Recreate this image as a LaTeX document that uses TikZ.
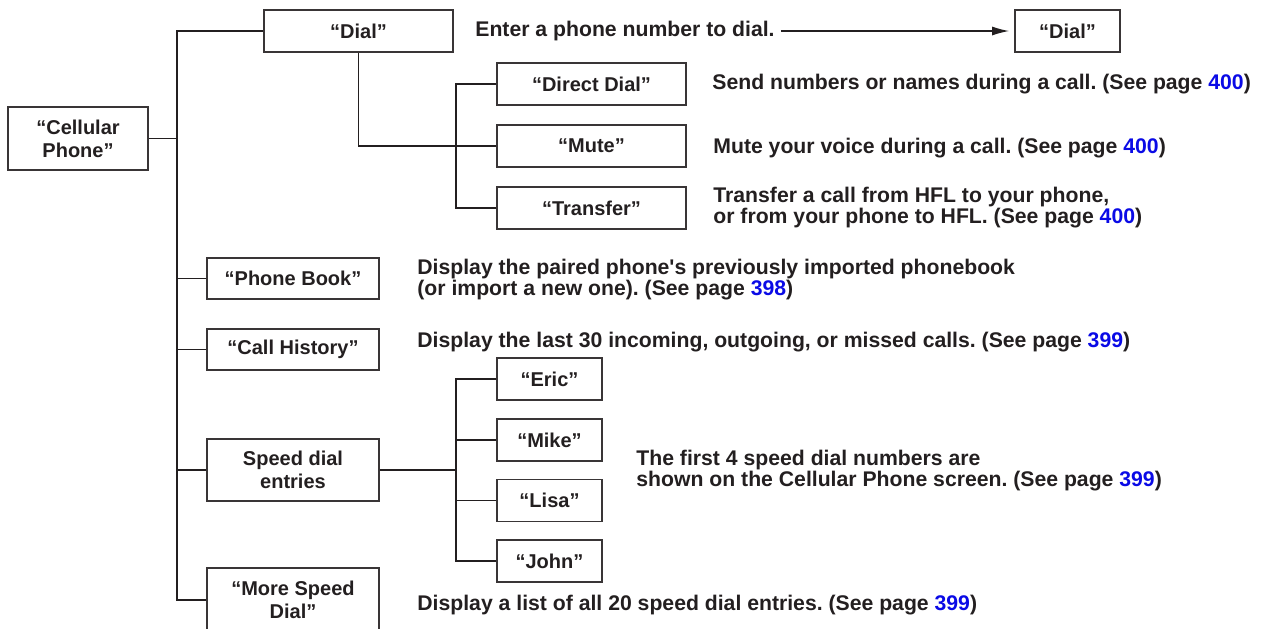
\documentclass[tikz,border=0pt]{standalone}
\usepackage{fontspec}
\setmainfont{Liberation Sans}
\usetikzlibrary{arrows.meta,positioning}
\definecolor{ink}{HTML}{231F20}
\definecolor{pageblue}{HTML}{0A0AE6}
\newcommand{\pg}[1]{\textcolor{pageblue}{#1}}
\frenchspacing
\tikzset{>=Latex,line width=.75pt,
  every node/.style={font=\bfseries\fontsize{10}{11.5}\selectfont,text=ink},
  menubox/.style={draw=ink!90,line width=.8pt,inner sep=0pt,align=center},
  widebox/.style={menubox,minimum width=94.5pt,minimum height=21pt},
  midbox/.style={menubox,minimum width=86pt,minimum height=20.5pt},
  namebox/.style={menubox,minimum width=52.5pt,minimum height=21pt},
  desc/.style={anchor=west,align=left,inner sep=0pt,
    font=\bfseries\fontsize{10.6}{10.5}\selectfont},
  wire/.style={draw=ink,line width=.7pt}}

\begin{document}
\begin{tikzpicture}[x=.5pt,y=-.5pt]
\useasboundingbox (0,0) rectangle (1264,628);

% menu boxes
\node[menubox,minimum width=70pt,minimum height=31.5pt] (cell) at (78,138.5) {“Cellular\\Phone”};
\node[widebox] (dial) at (358.5,31) {“Dial”};
\node[namebox] (dialr) at (1067.5,31) {“Dial”};
\node[widebox] (direct) at (591.5,84) {“Direct Dial”};
\node[widebox] (mute) at (591.5,146) {“Mute”};
\node[widebox] (transfer) at (591.5,208) {“Transfer”};
\node[midbox] (book) at (293,278.5) {“Phone Book”};
\node[midbox] (hist) at (293,349.5) {“Call History”};
\node[midbox,minimum height=31pt] (speed) at (293,470) {Speed dial\\entries};
\node[midbox,minimum height=32pt] (more) at (293,600) {“More Speed\\Dial”};
\node[namebox] (eric) at (549.5,379) {“Eric”};
\node[namebox] (mike) at (549.5,440) {“Mike”};
\node[namebox] (lisa) at (549.5,500.5) {“Lisa”};
\node[namebox] (john) at (549.5,561) {“John”};

% descriptions
\node[desc] (enter) at (475,31) {Enter a phone number to dial.};
\node[desc] (directtxt) at (712,84) {Send numbers or names during a call. (See page \pg{400})};
\node[desc] (mutetxt) at (713,148) {Mute your voice during a call. (See page \pg{400})};
\node[desc] (transfertxt) at (713,208) {Transfer a call from HFL to your phone,\\or from your phone to HFL. (See page \pg{400})};
\node[desc] (booktxt) at (417,280) {Display the paired phone\textquotesingle s previously imported phonebook\\(or import a new one). (See page \pg{398})};
\node[desc] (histtxt) at (417,342) {Display the last 30 incoming, outgoing, or missed calls. (See page \pg{399})};
\node[desc] (speedtxt) at (636,471) {The first 4 speed dial numbers are\\shown on the Cellular Phone screen. (See page \pg{399})};
\node[desc] (moretxt) at (417,605) {Display a list of all 20 speed dial entries. (See page \pg{399})};

% connectors
\coordinate (trunk) at (177,0);
\coordinate (subtrunk) at (456,0);
\draw[wire] (cell.east) -- (cell.east -| trunk);
\draw[wire] (dial.west) -| (trunk |- more.west) -- (more.west);
\foreach \n in {book,hist,speed} \draw[wire] (\n.west) -- (\n.west -| trunk);
\draw[wire] (dial.south) |- (mute.west);
\draw[wire] (direct.west) -| (subtrunk |- transfer.west) -- (transfer.west);
\draw[wire] (speed.east) -- (speed.east -| subtrunk);
\draw[wire] (eric.west) -| (subtrunk |- john.west) -- (john.west);
\foreach \n in {mike,lisa} \draw[wire] (\n.west) -- (\n.west -| subtrunk);
\draw[wire,-{Latex[length=8.5pt,width=4.5pt]},shorten <=3pt,shorten >=2.5pt] (enter.east) -- (dialr.west);
\end{tikzpicture}
\end{document}
